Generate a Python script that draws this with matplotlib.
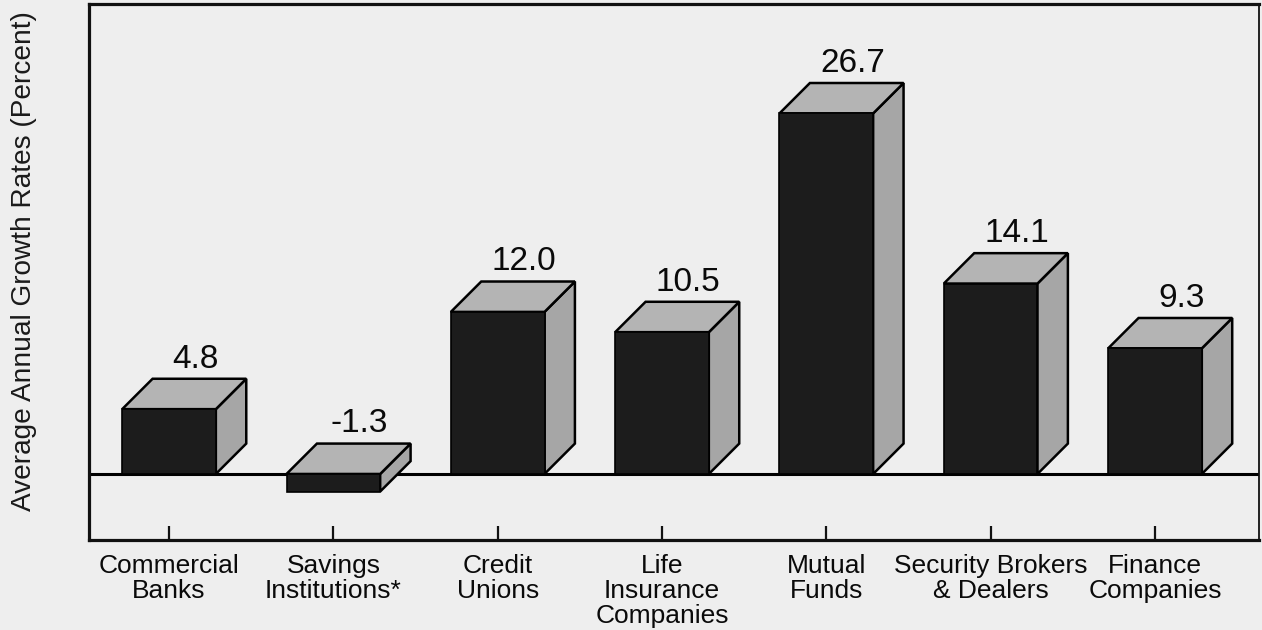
import matplotlib
matplotlib.use('Agg')
import matplotlib.pyplot as plt
from matplotlib.patches import Polygon, Rectangle

categories = ["Commercial\nBanks", "Savings\nInstitutions*", "Credit\nUnions",
              "Life\nInsurance\nCompanies", "Mutual\nFunds",
              "Security Brokers\n& Dealers", "Finance\nCompanies"]
values = [4.8, -1.3, 12.0, 10.5, 26.7, 14.1, 9.3]
value_labels = ["4.8", "-1.3", "12.0", "10.5", "26.7", "14.1", "9.3"]
ylabel = "Average Annual Growth Rates (Percent)"

bg = "#eeeeee"
front_c = "#1c1c1c"
top_c = "#b4b4b4"
side_c = "#a6a6a6"
font = ["Liberation Sans", "DejaVu Sans"]
plt.rcParams['font.family'] = font

W, H = 1262, 630
fig = plt.figure(figsize=(W / 100, H / 100), dpi=100, facecolor=bg)
ax = fig.add_axes([89 / W, 1 - 540 / H, (1259 - 89) / W, (540 - 4) / H])
ax.set_facecolor(bg)
ax.set_xlim(-0.487, 6.633)
ax.set_ylim(-4.89, 34.8)

ax.axhline(0, color="black", lw=2.2, zorder=1)

bw = 0.57
dx = 0.185
dy = 2.25
for i, (v, lab) in enumerate(zip(values, value_labels)):
    x0, x1 = i - bw / 2, i + bw / 2
    lo, hi = min(0, v), max(0, v)
    side = Polygon([(x1, lo), (x1 + dx, lo + dy), (x1 + dx, hi + dy), (x1, hi)],
                   closed=True, facecolor=side_c, edgecolor="black", lw=1.8,
                   joinstyle="miter", zorder=2)
    top = Polygon([(x0, hi), (x1, hi), (x1 + dx, hi + dy), (x0 + dx, hi + dy)],
                  closed=True, facecolor=top_c, edgecolor="black", lw=1.8,
                  joinstyle="miter", zorder=2)
    frontp = Rectangle((x0, lo), bw, hi - lo, facecolor=front_c,
                       edgecolor="black", lw=1.2, zorder=3)
    ax.add_patch(side)
    ax.add_patch(top)
    ax.add_patch(frontp)
    ax.text(i + 0.16, hi + dy + 1.45, lab, ha="center", va="center",
            fontsize=24, color="#0a0a0a", zorder=4)

ax.set_xticks(range(len(categories)))
ax.set_xticklabels(categories, fontsize=19, linespacing=1.05, color="#0a0a0a")
ax.set_yticks([])
ax.tick_params(axis="x", direction="in", length=10, width=1.6, pad=10,
               color="#111111")
for s in ["left", "top", "bottom"]:
    ax.spines[s].set_linewidth(2.3)
ax.spines["right"].set_linewidth(1.3)
for s in ax.spines.values():
    s.set_color("#111111")

fig.text(24 / W, 1 - 261 / H, ylabel, rotation=90, ha="center", va="center",
         fontsize=20.2, color="#1a1a1a")

fig.savefig("out.png", dpi=100, facecolor=bg)
